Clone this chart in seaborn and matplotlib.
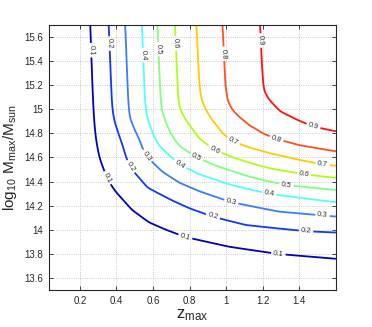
import numpy as np
import matplotlib
matplotlib.use('Agg')
import matplotlib.pyplot as plt
import seaborn as sns

# contour levels and the lines, (z_max, log10 M_max)
levels = [0.1, 0.2, 0.3, 0.4, 0.5, 0.6, 0.7, 0.8, 0.9]

z_01 = [0.264, 0.267, 0.282, 0.306, 0.350, 0.400, 0.491, 0.582, 0.673, 0.778, 1.018, 1.286, 1.598]
m_01 = [15.70, 15.08, 14.80, 14.60, 14.43, 14.32, 14.17, 14.07, 14.01, 13.95, 13.87, 13.81, 13.77]
z_02 = [0.362, 0.364, 0.382, 0.418, 0.473, 0.571, 0.699, 0.800, 0.927, 1.109, 1.437, 1.598]
m_02 = [15.70, 15.08, 14.91, 14.75, 14.52, 14.35, 14.25, 14.18, 14.11, 14.04, 13.99, 13.98]
z_03 = [0.451, 0.454, 0.462, 0.491, 0.564, 0.653, 0.746, 0.855, 1.028, 1.291, 1.527, 1.598]
m_03 = [15.70, 15.08, 14.95, 14.84, 14.61, 14.48, 14.39, 14.32, 14.23, 14.15, 14.12, 14.11]
z_04 = [0.542, 0.545, 0.555, 0.566, 0.600, 0.636, 0.746, 0.855, 1.036, 1.236, 1.598]
m_04 = [15.70, 15.08, 14.98, 14.91, 14.77, 14.69, 14.54, 14.46, 14.37, 14.30, 14.23]
z_05 = [0.627, 0.628, 0.636, 0.658, 0.691, 0.746, 0.837, 0.946, 1.127, 1.236, 1.328, 1.598]
m_05 = [15.70, 15.19, 15.02, 14.91, 14.79, 14.69, 14.60, 14.53, 14.44, 14.40, 14.37, 14.33]
z_06 = [0.722, 0.724, 0.736, 0.756, 0.789, 0.855, 0.936, 1.055, 1.164, 1.236, 1.427, 1.598]
m_06 = [15.70, 15.13, 15.02, 14.95, 14.87, 14.75, 14.66, 14.59, 14.54, 14.51, 14.46, 14.43]
z_07 = [0.837, 0.841, 0.855, 0.882, 0.920, 0.975, 1.036, 1.127, 1.253, 1.400, 1.527, 1.598]
m_07 = [15.70, 15.24, 15.09, 14.99, 14.90, 14.80, 14.73, 14.68, 14.63, 14.58, 14.54, 14.53]
z_08 = [0.978, 0.982, 0.996, 1.024, 1.062, 1.127, 1.193, 1.273, 1.400, 1.598]
m_08 = [15.70, 15.24, 15.08, 14.99, 14.93, 14.85, 14.80, 14.75, 14.70, 14.65]
z_09 = [1.186, 1.187, 1.198, 1.220, 1.247, 1.291, 1.382, 1.473, 1.598]
m_09 = [15.70, 15.24, 15.16, 15.09, 15.04, 14.97, 14.90, 14.84, 14.80]

# where the inline labels sit
label_z = [0.260, 0.350, 0.778, 1.286, 0.362, 0.473, 0.927, 1.437, 0.564, 1.028, 1.527,
           0.542, 0.746, 1.236, 0.627, 0.837, 1.328, 0.722, 0.936, 1.427, 1.036, 1.527,
           0.978, 1.273, 1.186, 1.473]
label_m = [15.49, 14.43, 13.95, 13.81, 15.545, 14.52, 14.11, 13.99, 14.61, 14.23, 14.12,
           15.45, 14.54, 14.29, 15.50, 14.60, 14.37, 15.545, 14.66, 14.46, 14.73, 14.54,
           15.46, 14.745, 15.57, 14.84]

x_ticks = [0.2, 0.4, 0.6, 0.8, 1.0, 1.2, 1.4]
x_tick_labels = ['0.2', '0.4', '0.6', '0.8', '1', '1.2', '1.4']
y_ticks = [13.6, 13.8, 14.0, 14.2, 14.4, 14.6, 14.8, 15.0, 15.2, 15.4, 15.6]
y_tick_labels = ['13.6', '13.8', '14', '14.2', '14.4', '14.6', '14.8', '15', '15.2', '15.4', '15.6']

line_colors = ['#0000c8', '#1038ff', '#3c7cff', '#50ffff', '#80ff80',
               '#b0ff10', '#ffcc00', '#ff5020', '#ff1010']

sns.set_theme(style='ticks')
plt.rcParams['font.family'] = ['Liberation Sans', 'DejaVu Sans']
plt.rcParams['mathtext.fontset'] = 'custom'
plt.rcParams['mathtext.rm'] = 'Liberation Sans'


def smooth(a, sigma, axis):
    n = int(3 * sigma)
    k = np.exp(-0.5 * (np.arange(-n, n + 1) / sigma) ** 2)
    k /= k.sum()
    pad = [(0, 0), (0, 0)]
    pad[axis] = (n, n)
    a = np.pad(a, pad, mode='edge')
    return np.apply_along_axis(lambda v: np.convolve(v, k, mode='valid'), axis, a)


# build a field whose level sets follow the read lines
lines = [(z_01, m_01), (z_02, m_02), (z_03, m_03), (z_04, m_04), (z_05, m_05),
         (z_06, m_06), (z_07, m_07), (z_08, m_08), (z_09, m_09)]
zg = np.linspace(0.03, 1.6, 700)
mg = np.linspace(13.5, 15.7, 600)
field = np.zeros((len(mg), len(zg)))
for i, z in enumerate(zg):
    cross = []
    for lz, lm in lines:
        if z < lz[0]:
            cross.append(lm[0] + (lz[0] - z) * 20)
        else:
            cross.append(np.interp(z, lz, lm))
    knots_m = [12.5] + cross + [cross[-1] + 3]
    knots_f = [0.0] + levels + [1.0]
    field[:, i] = np.interp(mg, knots_m, knots_f)
field = smooth(smooth(field, 4, 1), 4, 0)

fig = plt.figure(figsize=(3.72, 3.27), dpi=100)
ax = fig.add_axes([0.131, 0.113, 0.772, 0.811])
cs = ax.contour(zg, mg, field, levels=levels, colors=line_colors, linewidths=1.3)
ax.clabel(cs, fmt='%.1f', fontsize=5.5, colors='#333333', inline=True, inline_spacing=2,
          manual=list(zip(label_z, label_m)))

ax.set_xlim(0.03, 1.6)
ax.set_ylim(13.5, 15.7)
ax.set_xticks(x_ticks)
ax.set_xticklabels(x_tick_labels)
ax.set_yticks(y_ticks)
ax.set_yticklabels(y_tick_labels)
ax.grid(True, linestyle=':', color='#b8b8b8', linewidth=0.6)
ax.tick_params(direction='in', top=True, right=True, length=3, width=0.6,
               labelsize=7, colors='#262626', pad=4)
for s in ax.spines.values():
    s.set_visible(True)
    s.set_color('#262626')
    s.set_linewidth(0.8)
ax.set_xlabel(r'$\mathrm{z_{max}}$', fontsize=12, labelpad=1)
ax.set_ylabel(r'$\mathrm{log_{10}\ M_{max}/M_{sun}}$', fontsize=11, labelpad=4)

fig.savefig('out.png', dpi=100)
